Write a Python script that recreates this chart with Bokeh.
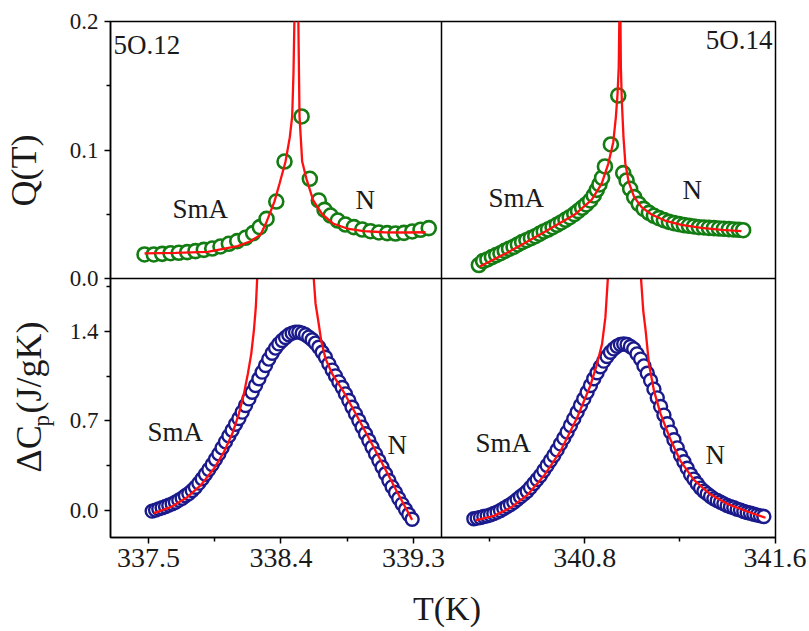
from bokeh.plotting import figure
from bokeh.models import Range1d, LinearAxis, FixedTicker, Span, Label, CustomJSTickFormatter
from bokeh.layouts import row, column
from bokeh.embed import file_html
from bokeh.resources import INLINE

# ---------------- data ----------------
# 5O.12, order parameter Q(T)
q12_smA_T = [337.473, 337.536, 337.593, 337.650, 337.706, 337.763, 337.819, 337.876, 337.933, 337.989,
             338.046, 338.103, 338.159, 338.211, 338.256, 338.302, 338.368, 338.424, 338.540]
q12_smA_Q = [0.0187, 0.0187, 0.0192, 0.0197, 0.0200, 0.0205, 0.0213, 0.0223, 0.0233, 0.0249,
             0.0270, 0.0291, 0.0317, 0.0353, 0.0400, 0.0464, 0.0599, 0.0910, 0.1261]
q12_N_T = [338.596, 338.657, 338.696, 338.737, 338.786, 338.838, 338.895, 338.952, 339.008, 339.065,
           339.122, 339.178, 339.235, 339.292, 339.348, 339.404]
q12_N_Q = [0.0776, 0.0607, 0.0534, 0.0490, 0.0451, 0.0420, 0.0400, 0.0381, 0.0368, 0.0358,
           0.0353, 0.0350, 0.0355, 0.0366, 0.0379, 0.0392]
q12_fitA_T = [337.473, 337.684, 337.901, 338.105, 338.193, 338.261, 338.302, 338.356, 338.390, 338.431,
              338.460, 338.476, 338.485, 338.491, 338.493]
q12_fitA_Q = [0.0195, 0.0200, 0.0207, 0.0252, 0.029, 0.034, 0.044, 0.060, 0.0737, 0.091,
              0.110, 0.126, 0.160, 0.200, 0.25]
q12_fitN_T = [338.516, 338.518, 338.526, 338.544, 338.573, 338.619, 338.680, 338.757, 338.850, 338.961,
              339.097, 339.246, 339.382]
q12_fitN_Q = [0.25, 0.2, 0.126, 0.091, 0.0776, 0.0607, 0.050, 0.0426, 0.0389, 0.0368,
              0.0360, 0.0358, 0.0360]

# 5O.14, order parameter Q(T)
q14_smA_T = [340.355, 340.373, 340.391, 340.410, 340.428, 340.446, 340.464, 340.482, 340.501, 340.519,
             340.537, 340.555, 340.574, 340.592, 340.610, 340.628, 340.646, 340.665, 340.683, 340.701,
             340.719, 340.737, 340.756, 340.772, 340.789, 340.806, 340.823, 340.838, 340.851, 340.862,
             340.873, 340.885, 340.910, 340.941]
q14_smA_Q = [0.0105, 0.0135, 0.0148, 0.0166, 0.0182, 0.0197, 0.0215, 0.0231, 0.0246, 0.0265,
             0.0283, 0.0298, 0.0314, 0.0329, 0.0348, 0.0366, 0.0381, 0.0399, 0.0418, 0.0436,
             0.0457, 0.0477, 0.0501, 0.0524, 0.0550, 0.0576, 0.0607, 0.0646, 0.0690, 0.0732,
             0.0783, 0.0872, 0.1043, 0.1424]
q14_N_T = [340.962, 340.976, 340.991, 341.008, 341.027, 341.048, 341.070, 341.091, 341.112, 341.133,
           341.154, 341.175, 341.196, 341.217, 341.238, 341.259, 341.280, 341.301, 341.322, 341.343,
           341.364, 341.385, 341.406, 341.427, 341.448, 341.466]
q14_N_Q = [0.0820, 0.0763, 0.0698, 0.0633, 0.0581, 0.0542, 0.0511, 0.0488, 0.0470, 0.0454,
           0.0441, 0.0431, 0.0423, 0.0415, 0.0410, 0.0405, 0.0399, 0.0397, 0.0394, 0.0392,
           0.0389, 0.0387, 0.0384, 0.0381, 0.0379, 0.0376]
q14_fitA_T = [340.359, 340.478, 340.618, 340.758, 340.829, 340.871, 340.899, 340.920, 340.931, 340.938,
              340.943, 340.946]
q14_fitA_Q = [0.0093, 0.0205, 0.0348, 0.0498, 0.0612, 0.0737, 0.0892, 0.1061, 0.1256, 0.1437,
              0.1645, 0.2086]
q14_fitN_T = [340.950, 340.952, 340.956, 340.963, 340.971, 340.985, 341.008, 341.039, 341.081, 341.137,
              341.207, 341.291, 341.375, 341.459]
q14_fitN_Q = [0.2086, 0.1645, 0.1385, 0.110, 0.0892, 0.0750, 0.0633, 0.0555, 0.0498, 0.0451,
              0.0418, 0.0394, 0.0379, 0.0368]

# 5O.12, excess heat capacity
cp12_T = [337.525, 337.548, 337.570, 337.593, 337.616, 337.638, 337.661, 337.683, 337.706, 337.729,
          337.751, 337.774, 337.797, 337.819, 337.842, 337.865, 337.887, 337.910, 337.933, 337.955,
          337.978, 338.000, 338.023, 338.046, 338.068, 338.091, 338.114, 338.136, 338.159, 338.182,
          338.204, 338.227, 338.250, 338.272, 338.295, 338.317, 338.340, 338.363, 338.385, 338.408,
          338.431, 338.453, 338.476, 338.499, 338.521, 338.544, 338.567, 338.589, 338.612, 338.634,
          338.657, 338.680, 338.702, 338.725, 338.748, 338.770, 338.793, 338.816, 338.838, 338.861,
          338.883, 338.906, 338.929, 338.951, 338.974, 338.997, 339.019, 339.042, 339.065, 339.087,
          339.110, 339.133, 339.155, 339.178, 339.200, 339.223, 339.246, 339.268, 339.291]
cp12_C = [-0.005, 0.003, 0.013, 0.021, 0.031, 0.042, 0.052, 0.065, 0.081, 0.096,
          0.115, 0.133, 0.156, 0.182, 0.214, 0.248, 0.284, 0.321, 0.360, 0.401,
          0.443, 0.490, 0.537, 0.584, 0.628, 0.675, 0.720, 0.769, 0.821, 0.873,
          0.925, 0.978, 1.030, 1.082, 1.134, 1.184, 1.230, 1.270, 1.303, 1.330,
          1.353, 1.374, 1.387, 1.395, 1.395, 1.387, 1.374, 1.356, 1.335, 1.309,
          1.277, 1.238, 1.199, 1.147, 1.098, 1.053, 1.006, 0.962, 0.912, 0.860,
          0.808, 0.756, 0.704, 0.652, 0.600, 0.547, 0.495, 0.443, 0.391, 0.339,
          0.287, 0.235, 0.185, 0.141, 0.094, 0.050, 0.008, -0.031, -0.068]
cp12_fitA_T = [337.537, 337.650, 337.763, 337.854, 337.944, 338.012, 338.069, 338.114, 338.148, 338.175,
               338.198, 338.216, 338.229, 338.238, 338.245]
cp12_fitA_C = [-0.021, 0.026, 0.104, 0.196, 0.326, 0.456, 0.600, 0.756, 0.912, 1.069,
               1.225, 1.408, 1.590, 1.807, 2.138]
cp12_fitN_T = [338.619, 338.623, 338.635, 338.653, 338.673, 338.703, 338.748, 338.827, 338.918, 339.008,
               339.099, 339.190, 339.291]
cp12_fitN_C = [2.007, 1.807, 1.616, 1.486, 1.330, 1.186, 1.069, 0.925, 0.735, 0.542,
               0.344, 0.143, -0.073]

# 5O.14, excess heat capacity
cp14_T = [340.334, 340.348, 340.362, 340.376, 340.390, 340.404, 340.418, 340.432, 340.446, 340.460,
          340.474, 340.488, 340.502, 340.516, 340.530, 340.544, 340.558, 340.572, 340.586, 340.600,
          340.614, 340.628, 340.642, 340.656, 340.670, 340.684, 340.698, 340.712, 340.726, 340.740,
          340.754, 340.768, 340.782, 340.796, 340.810, 340.824, 340.838, 340.852, 340.866, 340.880,
          340.894, 340.908, 340.922, 340.936, 340.950, 340.964, 340.978, 340.992, 341.006, 341.020,
          341.035, 341.049, 341.063, 341.077, 341.091, 341.105, 341.119, 341.133, 341.147, 341.161,
          341.175, 341.189, 341.203, 341.217, 341.231, 341.245, 341.259, 341.273, 341.287, 341.301,
          341.315, 341.329, 341.343, 341.357, 341.371, 341.385, 341.399, 341.413, 341.427, 341.441,
          341.455, 341.469, 341.483, 341.497, 341.511, 341.525, 341.539, 341.553]
cp14_C = [-0.065, -0.060, -0.055, -0.047, -0.042, -0.034, -0.023, -0.013, 0.000, 0.016,
          0.031, 0.047, 0.065, 0.086, 0.107, 0.128, 0.151, 0.180, 0.211, 0.242,
          0.274, 0.313, 0.352, 0.391, 0.430, 0.474, 0.521, 0.566, 0.613, 0.665,
          0.717, 0.769, 0.821, 0.873, 0.925, 0.978, 1.030, 1.077, 1.124, 1.168,
          1.204, 1.238, 1.264, 1.285, 1.298, 1.303, 1.298, 1.283, 1.264, 1.225,
          1.184, 1.131, 1.074, 1.017, 0.949, 0.881, 0.813, 0.746, 0.678, 0.613,
          0.553, 0.490, 0.430, 0.381, 0.331, 0.282, 0.245, 0.209, 0.175, 0.151,
          0.130, 0.109, 0.091, 0.078, 0.065, 0.052, 0.039, 0.029, 0.021, 0.010,
          0.003, -0.008, -0.016, -0.021, -0.029, -0.036, -0.042, -0.047]
cp14_fitA_T = [340.341, 340.418, 340.488, 340.558, 340.628, 340.698, 340.768, 340.824, 340.852, 340.873,
               340.887, 340.897, 340.902]
cp14_fitA_C = [-0.078, -0.042, 0.021, 0.120, 0.269, 0.464, 0.725, 0.978, 1.147, 1.303,
               1.512, 1.807, 2.059]
cp14_fitN_T = [341.035, 341.037, 341.046, 341.056, 341.070, 341.091, 341.119, 341.161, 341.203, 341.259,
               341.329, 341.399, 341.483, 341.560]
cp14_fitN_C = [2.059, 1.807, 1.564, 1.408, 1.147, 0.938, 0.756, 0.553, 0.386, 0.240,
               0.125, 0.052, -0.008, -0.057]

# ticks
xt_left = [337.5, 338.4, 339.3]
xt_left_labels = ["337.5", "338.4", "339.3"]
xt_left_minor = [337.95, 338.85]
xt_right = [340.8, 341.6]
xt_right_labels = ["340.8", "341.6"]
xt_right_minor = [340.4, 341.2]
yt_q = [0.0, 0.1, 0.2]
yt_q_labels = ["0.0", "0.1", "0.2"]
yt_q_minor = [0.05, 0.15]
yt_cp = [0.0, 0.7, 1.4]
yt_cp_labels = ["0.0", "0.7", "1.4"]
yt_cp_minor = [0.35, 1.05, 1.75]

# ---------------- panel geometry (page pixels) ----------------
W, H = 809, 631
STRIP_L = 60          # left strip holding the y titles
STRIP_B = 46          # bottom strip holding the x title
FL, FR, FT, FB = 110, 775, 21, 537          # frame edges on the page
LW, RW = 331, 334                            # left / right panel widths
TH, BH = 257, 259                            # top / bottom panel heights
FW, FH = FR - FL, FB - FT

XL = (337.2418, 339.4905)   # left panel T range
XR = (340.198, 341.602)     # right panel T range
YQ = (0.0, 0.2)             # top panel Q range
YC = (-0.2112, 1.8145)      # bottom panel Cp range

x_main = Range1d(XL[0], XL[0] + (XL[1] - XL[0]) * FW / LW)
x_r = Range1d(XR[1] - (XR[1] - XR[0]) * FW / RW, XR[1])
y_main = Range1d(YC[0], YC[0] + (YC[1] - YC[0]) * FH / BH)
y_q = Range1d(YQ[1] - (YQ[1] - YQ[0]) * FH / TH, YQ[1])


def r_to_main(t):
    v = x_main.start + (t - x_r.start) * (x_main.end - x_main.start) / (x_r.end - x_r.start)
    return min(v, x_main.end - 1e-7)


def q_to_main(q):
    v = y_main.start + (q - y_q.start) * (y_main.end - y_main.start) / (y_q.end - y_q.start)
    return min(v, y_main.end - 1e-7)


def px2x(px):
    return x_main.start + (px - FL) * (x_main.end - x_main.start) / FW


def py2y(py):
    return y_main.start + (FB - py) * (y_main.end - y_main.start) / FH


def clip_above(xs, ys, ymax):
    ox, oy = [], []
    for i in range(len(xs)):
        inside = ys[i] <= ymax
        if i > 0:
            prev_inside = ys[i - 1] <= ymax
            if inside != prev_inside:
                t = (ymax - ys[i - 1]) / (ys[i] - ys[i - 1])
                ox.append(xs[i - 1] + t * (xs[i] - xs[i - 1]))
                oy.append(ymax)
        if inside:
            ox.append(xs[i])
            oy.append(ys[i])
    return ox, oy


FONT = "Liberation Serif"
GREEN = "#137d13"
BLUE = "#1a1a8c"
RED = "#ff1010"
TXT = "#1a1a1a"

MAIN_W = W - STRIP_L
MAIN_H = H - STRIP_B

p = figure(width=MAIN_W, height=MAIN_H, x_range=x_main, y_range=y_main,
           x_axis_type=None, y_axis_type=None, title=None,
           toolbar_location=None, output_backend="svg",
           min_border_left=FL - STRIP_L, min_border_right=W - FR,
           min_border_top=FT, min_border_bottom=MAIN_H - FB)
p.extra_x_ranges = {"r": x_r}
p.extra_y_ranges = {"q": y_q}
p.outline_line_color = "black"
p.outline_line_width = 1.5
p.background_fill_color = "white"
p.border_fill_color = "white"

# panel dividers
p.add_layout(Span(location=XL[1], dimension="height", line_color="black", line_width=1.5))
p.add_layout(Span(location=YC[1], dimension="width", line_color="black", line_width=1.5))

# ---------------- glyphs ----------------
ms_q = dict(marker="circle", size=14, line_color=GREEN, line_width=2.6, fill_color="white")
ms_c = dict(marker="circle", size=13, line_color=BLUE, line_width=2.4, fill_color="white")
ls = dict(line_color=RED, line_width=2.3)

# top-left
p.scatter(q12_smA_T, q12_smA_Q, y_range_name="q", **ms_q)
p.scatter(q12_N_T, q12_N_Q, y_range_name="q", **ms_q)
p.line(q12_fitA_T, q12_fitA_Q, y_range_name="q", **ls)
p.line(q12_fitN_T, q12_fitN_Q, y_range_name="q", **ls)

# top-right
p.scatter(q14_smA_T, q14_smA_Q, x_range_name="r", y_range_name="q", **ms_q)
p.scatter(q14_N_T, q14_N_Q, x_range_name="r", y_range_name="q", **ms_q)
p.line(q14_fitA_T, q14_fitA_Q, x_range_name="r", y_range_name="q", **ls)
p.line(q14_fitN_T, q14_fitN_Q, x_range_name="r", y_range_name="q", **ls)

# bottom-left
p.scatter(cp12_T, cp12_C, **ms_c)
xa, ya = clip_above(cp12_fitA_T, cp12_fitA_C, YC[1])
p.line(xa, ya, **ls)
xa, ya = clip_above(cp12_fitN_T, cp12_fitN_C, YC[1])
p.line(xa, ya, **ls)

# bottom-right
p.scatter(cp14_T, cp14_C, x_range_name="r", **ms_c)
xa, ya = clip_above(cp14_fitA_T, cp14_fitA_C, YC[1])
p.line(xa, ya, x_range_name="r", **ls)
xa, ya = clip_above(cp14_fitN_T, cp14_fitN_C, YC[1])
p.line(xa, ya, x_range_name="r", **ls)

# ---------------- axes (one per side, carrying both panels' ticks) ----------------
LOOKUP = """
let best = 0, bd = Infinity;
for (let i = 0; i < vals.length; i++) {
  const d = Math.abs(vals[i] - tick);
  if (d < bd) { bd = d; best = i; }
}
return labs[best];
"""


def style_axis(ax, size, standoff):
    ax.axis_line_color = "black"
    ax.axis_line_width = 1.5
    ax.major_tick_line_color = "black"
    ax.major_tick_line_width = 1.5
    ax.minor_tick_line_color = "black"
    ax.minor_tick_line_width = 1.5
    ax.major_tick_in = 0
    ax.major_tick_out = 6
    ax.minor_tick_in = 0
    ax.minor_tick_out = 4
    ax.major_label_text_font = FONT
    ax.major_label_text_font_size = size
    ax.major_label_text_color = TXT
    ax.major_label_standoff = standoff


y_ticks = list(yt_cp) + [q_to_main(v) for v in yt_q]
y_minor = list(yt_cp_minor) + [q_to_main(v) for v in yt_q_minor]
ax_y = LinearAxis(ticker=FixedTicker(ticks=y_ticks, minor_ticks=y_minor),
                  formatter=CustomJSTickFormatter(args=dict(vals=y_ticks, labs=yt_cp_labels + yt_q_labels),
                                                  code=LOOKUP))
style_axis(ax_y, "23px", 6)
p.add_layout(ax_y, "left")

x_ticks = list(xt_left) + [r_to_main(v) for v in xt_right]
x_minor = list(xt_left_minor) + [r_to_main(v) for v in xt_right_minor]
ax_x = LinearAxis(ticker=FixedTicker(ticks=x_ticks, minor_ticks=x_minor),
                  formatter=CustomJSTickFormatter(args=dict(vals=x_ticks, labs=xt_left_labels + xt_right_labels),
                                                  code=LOOKUP))
style_axis(ax_x, "28px", 5)
p.add_layout(ax_x, "below")

# ---------------- texts ----------------
SHIFT = 0.39   # Bokeh places the alphabetic baseline this many em lower than asked


def add_text(fig, text, x, y, size=27, align="left", angle=0):
    fig.add_layout(Label(x=x, y=y, text=text, text_font=FONT,
                         text_font_size=f"{size}px", text_align=align, text_baseline="alphabetic",
                         text_color=TXT, angle=angle, angle_units="deg"))


for txt, px, py, al in [("5O.12", 113, 55, "left"), ("5O.14", 772, 50, "right"),
                        ("SmA", 172, 219, "left"), ("N", 355, 210, "left"),
                        ("SmA", 488, 208, "left"), ("N", 682, 200, "left"),
                        ("SmA", 147, 442, "left"), ("N", 387, 455, "left"),
                        ("SmA", 475, 453, "left"), ("N", 705, 465, "left")]:
    add_text(p, txt, px2x(px), py2y(py - SHIFT * 27), align=al)


def strip(w, h, x0, x1, y0, y1):
    f = figure(width=w, height=h, x_range=Range1d(x0, x1), y_range=Range1d(y0, y1),
               x_axis_type=None, y_axis_type=None, title=None,
               toolbar_location=None, output_backend="svg",
               min_border_left=0, min_border_right=0, min_border_top=0, min_border_bottom=0)
    f.outline_line_color = None
    f.background_fill_color = "white"
    f.border_fill_color = "white"
    return f


left = strip(STRIP_L, H, 0, STRIP_L, H, 0)
add_text(left, "Q(T)", 38 - SHIFT * 36, 170, size=36, align="center", angle=90)
add_text(left, "\u0394C", 43 - SHIFT * 36, 472, size=36, align="left", angle=90)
add_text(left, "p", 50 - SHIFT * 23, 426, size=23, align="left", angle=90)
add_text(left, "(J/gK)", 43 - SHIFT * 36, 413, size=36, align="left", angle=90)

bottom = strip(MAIN_W, STRIP_B, STRIP_L, W, H, MAIN_H)
add_text(bottom, "T(K)", 439, 621 - SHIFT * 34, size=34, align="center")

layout = row(left, column(p, bottom, spacing=0), spacing=0)
open("out.html", "w").write(file_html(layout, INLINE))
